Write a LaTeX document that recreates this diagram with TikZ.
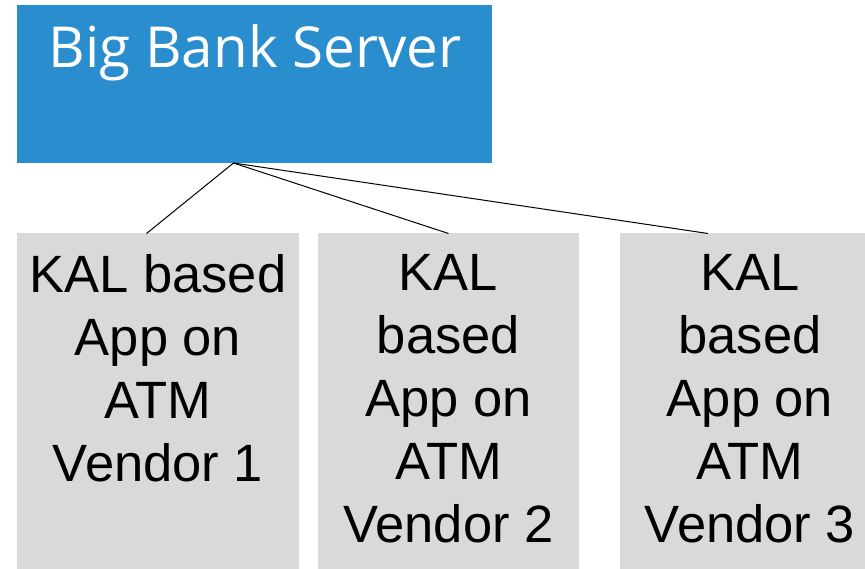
\documentclass[tikz,border=0pt]{standalone}
\usepackage{fontspec}
\setmainfont{Liberation Sans}
\newfontfamily\titlefont{Open Sans}
\definecolor{serverblue}{RGB}{41,141,206}
\definecolor{vendorgray}{RGB}{217,217,217}
\tikzset{
  box/.style={rectangle, draw=none, inner sep=0pt, outer sep=0pt, anchor=north west},
  serverbox/.style={box, fill=serverblue},
  vendorbox/.style={box, fill=vendorgray, minimum height=335pt},
  vendortext/.style={anchor=north, inner sep=0pt, align=center,
    font=\fontsize{52.5}{63}\selectfont},
  titletext/.style={anchor=base, inner sep=0pt, text=white,
    font=\titlefont\fontsize{56.5}{68}\selectfont},
  link/.style={draw=black, line width=1pt}
}
\begin{document}
\begin{tikzpicture}[x=1pt,y=-1pt]
\useasboundingbox (0,0) rectangle (865,569);

% server box
\node[serverbox, minimum width=475pt, minimum height=157.5pt] (server) at (17,5.5) {};
\node[titletext] (title) at (255,68) {Big Bank Server};

% vendor boxes
\node[vendorbox, minimum width=282pt] (v1) at (17,233.5) {};
\node[vendorbox, minimum width=261pt] (v2) at (318,233.5) {};
\node[vendorbox, minimum width=245pt] (v3) at (620,233.5) {};

\node[vendortext] (t1) at (158,254) {KAL based\\App on\\ATM\\Vendor 1};
\node[vendortext] (t2) at (448.5,254) {KAL\\based\\App on\\ATM\\Vendor 2};
\node[vendortext] (t3) at (750,254) {KAL\\based\\App on\\ATM\\Vendor 3};

% connectors
\coordinate (hub) at ([xshift=216.5pt]server.south west);
\draw[link] (hub) -- ([xshift=-11.5pt]v1.north);
\draw[link] (hub) -- (v2.north);
\draw[link] (hub) -- ([xshift=-34.5pt]v3.north);
\end{tikzpicture}
\end{document}
